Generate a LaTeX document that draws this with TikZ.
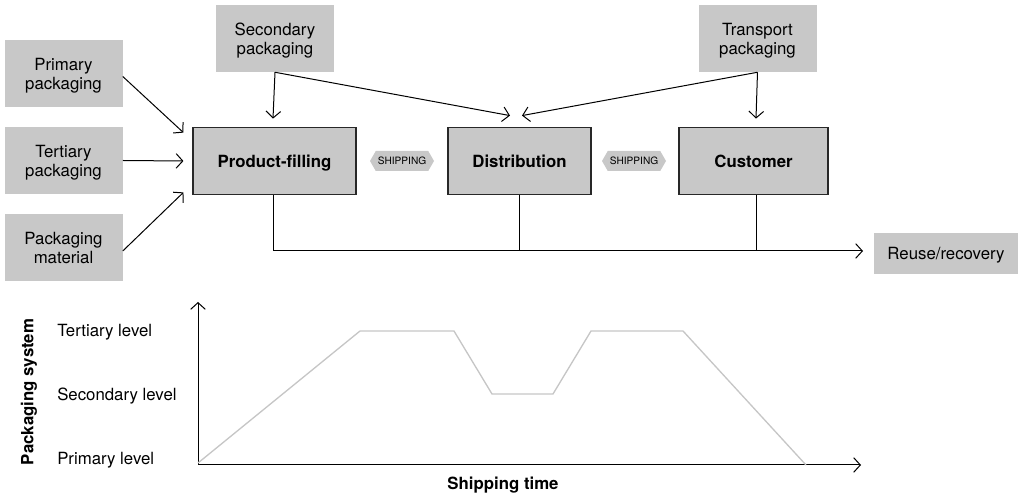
\documentclass[tikz,border=0pt]{standalone}
\usepackage{fontspec}
\setmainfont{TeX Gyre Heros}
\usepackage{tikz}
\usetikzlibrary{arrows.meta,shapes.symbols,calc}

\tikzset{
    inbox/.style={fill={rgb, 255:red, 200; green, 200; blue, 200 }, minimum width=88.5pt, minimum height=50.25pt, align=center, inner sep=0.75pt, text depth=0pt, font=\fontsize{12.6}{14.2}\selectfont},
    mainbox/.style={draw={rgb, 255:red, 40; green, 40; blue, 40 }, line width=1.1pt, fill={rgb, 255:red, 200; green, 200; blue, 200 }, minimum height=50.5pt, text depth=0pt, font=\fontsize{12.6}{14.2}\selectfont\bfseries},
    shiptag/.style={signal, signal to=west and east, signal pointer angle=120, fill={rgb, 255:red, 200; green, 200; blue, 200 }, minimum width=48pt, minimum height=15pt, inner sep=1pt, font=\fontsize{7.6}{9}\selectfont},
    flow/.style={line width=0.75pt, -{Straight Barb[length=5pt,width=11pt]}},
    levelcurve/.style={draw={rgb, 255:red, 198; green, 198; blue, 198 }, line width=1pt},
    leveltext/.style={anchor=west, inner sep=0pt, font=\fontsize{12.6}{14.2}\selectfont}
}

\begin{document}
\begin{tikzpicture}[x=0.75pt,y=0.75pt,yscale=-1,xscale=1]
        \useasboundingbox (0,0) rectangle (1018,498);

        % Input boxes
        \node [inbox] (prim) at (63.5,73.5) {Primary\\packaging};
        \node [inbox] (tert) at (63.5,160.5) {Tertiary\\packaging};
        \node [inbox] (mat) at (63.5,248) {Packaging\\material};
        \node [inbox] (sec) at (275,38.5) {Secondary\\packaging};
        \node [inbox] (trans) at (757.5,38.5) {Transport\\packaging};

        % Main boxes
        \node [mainbox, minimum width=122pt] (fill) at (274.5,161) {Product-filling};
        \node [mainbox, minimum width=107pt] (dist) at (519.5,161) {Distribution};
        \node [mainbox, minimum width=111.5pt] (cust) at (753.5,161) {Customer};
        \node [inbox, minimum width=108pt, minimum height=30.75pt] (reuse) at (946,253.5) {Reuse/recovery};

        % Shipping tags
        \node [shiptag] (ship1) at (402,161) {SHIPPING};
        \node [shiptag] (ship2) at (634,161) {SHIPPING};

        %Straight Lines: inputs
        \draw [flow] ($(prim.east)+(0,3)$) -- ($(fill.north west)+(-9,6)$);
        \draw [flow] (tert.east) -- ($(fill.west)+(-9,0)$);
        \draw [flow] ($(mat.east)+(0,3)$) -- ($(fill.south west)+(-9,-3)$);
        \draw [flow] (sec.south) -- ($(fill.north)+(-1.5,-8)$);
        \draw [flow] (trans.south) -- ($(cust.north)+(2.5,-8)$);
        \draw [flow] (sec.south) -- ($(dist.north)+(-9.5,-11)$);
        \draw [flow] (trans.south) -- ($(dist.north)+(2.5,-11)$);

        %Straight Lines: return flow
        \coordinate (back) at (863,251);
        \draw [flow] ($(fill.south)+(-1.5,0)$) |- (back);
        \draw [line width=0.75pt] (dist.south) -- ++(0,56);
        \draw [line width=0.75pt] ($(cust.south)+(2.5,0)$) -- ++(0,56);

        % Graph
        \coordinate (orig) at (198,465);
        \coordinate (ytop) at (198,302);
        \coordinate (xend) at (861,465);
        \draw [flow] (orig) -- (ytop);
        \draw [flow] (orig) -- (xend);
        \draw [levelcurve] (198,463) -- (360,331) -- (454,331) -- (492,394) -- (553,394) -- (591,331) -- (683,331) -- (806,465);

        % Text Node
        \node [leveltext] (lvl3) at (57,332) {Tertiary level};
        \node [leveltext] (lvl2) at (57,396) {Secondary level};
        \node [leveltext] (lvl1) at (57,460) {Primary level};
        \node [rotate=90, font=\fontsize{12.6}{14.2}\selectfont\bfseries] (ylab) at (29,392) {Packaging system};
        \node [font=\fontsize{12.6}{14.2}\selectfont\bfseries] (xlab) at (503,485) {Shipping time};

    \end{tikzpicture}
\end{document}
